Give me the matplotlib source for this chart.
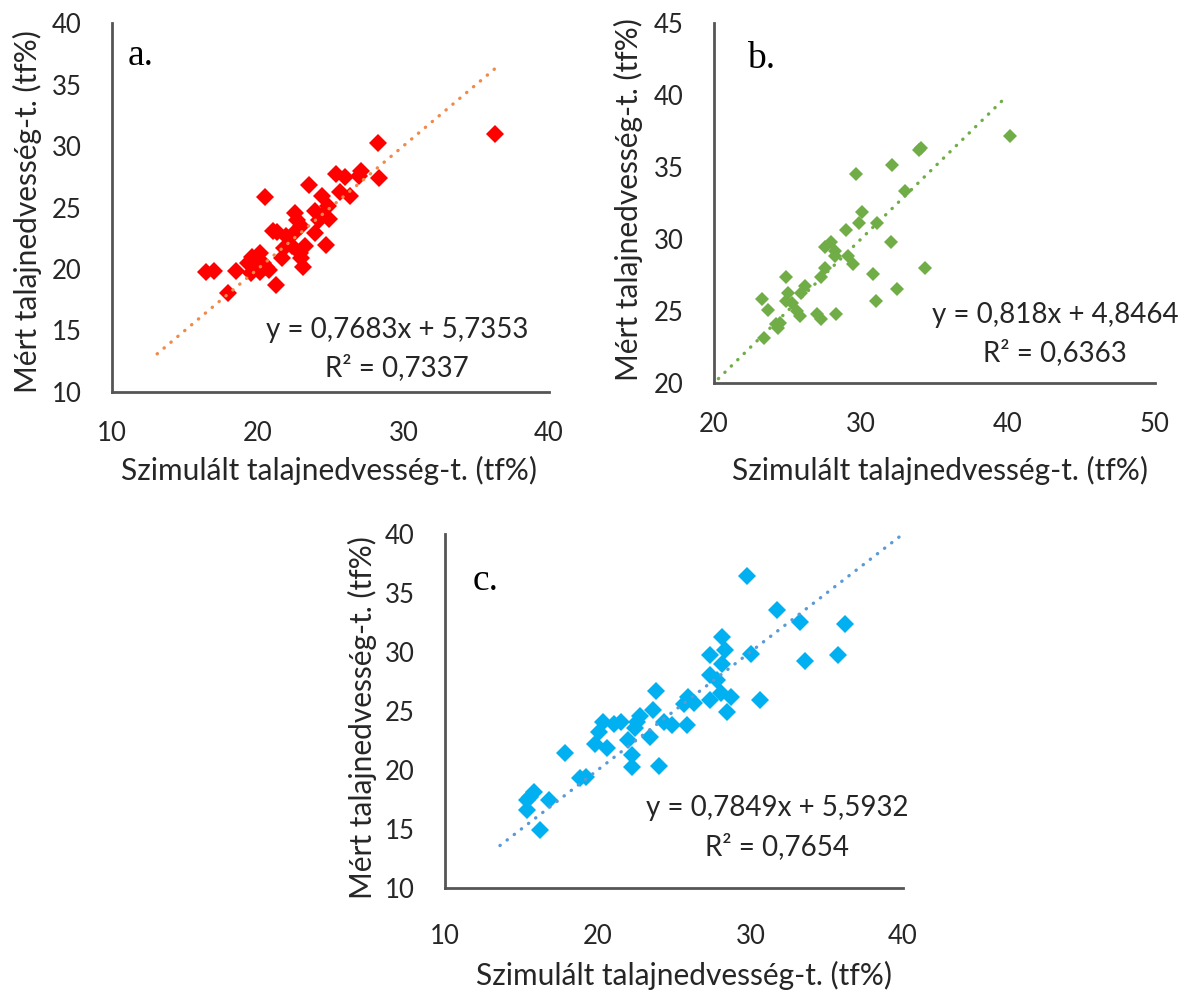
import matplotlib
matplotlib.use("Agg")
import matplotlib.pyplot as plt

# ---------------- data ----------------
a_x = [16.47, 17.0, 17.96, 18.48, 20.47, 19.35, 19.74, 19.6, 20.13, 20.39,
       20.79, 20.13, 21.26, 21.05, 21.65, 21.83, 21.96, 22.49, 22.54, 22.7,
       23.0, 23.0, 23.27, 23.53, 23.93, 23.93, 24.45, 24.45, 24.71, 24.84,
       24.9, 25.37, 25.63, 26.0, 26.36, 26.94, 27.07, 28.25, 28.3, 36.3,
       20.6, 23.1, 19.55, 22.36, 24.2, 21.3, 22.9]
a_y = [19.79, 19.8, 18.02, 19.8, 25.86, 20.47, 20.06, 21.0, 21.29, 20.47,
       19.93, 19.79, 18.7, 23.05, 20.88, 21.69, 22.65, 22.92, 24.55, 24.0,
       23.46, 20.88, 21.83, 26.86, 24.69, 22.92, 25.9, 24.28, 21.97, 25.1,
       24.1, 27.76, 26.3, 27.5, 25.9, 27.54, 27.95, 30.26, 27.4, 30.94,
       20.2, 20.2, 19.65, 21.83, 24.0, 23.0, 21.3]

b_x = [23.29, 23.64, 23.42, 24.25, 24.52, 24.38, 24.88, 25.0, 24.93, 25.34,
       25.62, 25.84, 25.9, 26.16, 26.99, 27.26, 27.26, 27.53, 27.53, 27.95,
       28.22, 28.22, 28.3, 28.96, 29.12, 29.45, 29.64, 29.86, 30.05, 30.82,
       31.01, 31.1, 32.05, 32.14, 32.47, 32.96, 33.92, 34.05, 34.38, 40.14]
b_y = [25.86, 25.05, 23.14, 24.07, 24.19, 23.84, 27.37, 26.28, 25.7, 25.58,
       25.0, 24.65, 26.28, 26.74, 24.77, 24.42, 27.33, 28.02, 29.42, 29.77,
       29.19, 28.84, 24.77, 30.63, 28.84, 28.26, 34.53, 31.12, 31.86, 27.56,
       25.7, 31.12, 29.77, 35.12, 26.51, 33.3, 36.16, 36.33, 28.02, 37.14]

c_x = [15.38, 15.38, 15.84, 15.57, 16.2, 16.79, 17.88, 18.83, 19.24, 19.84,
       20.11, 20.33, 20.6, 21.06, 21.55, 21.96, 22.23, 22.23, 22.45, 22.55,
       22.77, 23.45, 23.64, 23.8, 23.99, 24.35, 24.89, 25.63, 25.82, 25.9,
       26.3, 27.34, 27.34, 27.39, 27.8, 28.07, 28.15, 28.15, 28.34, 28.48,
       28.75, 29.76, 30.05, 30.65, 31.74, 33.23, 33.59, 35.76, 36.17]
c_y = [16.62, 17.46, 18.17, 17.75, 14.93, 17.46, 21.41, 19.3, 19.44, 22.2,
       23.24, 24.08, 21.83, 23.89, 24.08, 22.54, 21.27, 20.28, 23.52, 24.08,
       24.56, 22.82, 25.07, 26.7, 20.34, 24.08, 23.8, 25.63, 23.8, 26.2,
       25.69, 29.72, 28.03, 25.97, 27.6, 26.54, 31.27, 29.01, 30.2, 24.93,
       26.2, 36.48, 29.8, 25.97, 33.58, 32.54, 29.24, 29.77, 32.39]

# dotted reference line (x range of each)
a_line = [13.1, 36.5]
b_line = [20.3, 39.9]
c_line = [13.6, 40.0]

a_xticks = [10, 20, 30, 40]
a_yticks = [10, 15, 20, 25, 30, 35, 40]
b_xticks = [20, 30, 40, 50]
b_yticks = [20, 25, 30, 35, 40, 45]
c_xticks = [10, 20, 30, 40]
c_yticks = [10, 15, 20, 25, 30, 35, 40]

a_eq = ["y = 0,7683x + 5,7353", "R² = 0,7337"]
b_eq = ["y = 0,818x + 4,8464", "R² = 0,6363"]
c_eq = ["y = 0,7849x + 5,5932", "R² = 0,7654"]

xlabel = "Szimulált talajnedvesség-t. (tf%)"
ylabel = "Mért talajnedvesség-t. (tf%)"
panel_labels = ["a.", "b.", "c."]

# ---------------- style ----------------
W, H = 1192, 996
plt.rcParams['font.family'] = ['Lato', 'DejaVu Sans']
TXT = '#262626'
SPINE = '#555555'
FS_TICK = 18.5
FS_LAB = 21.5
FS_EQ = 20
FS_PANEL = 27

fig = plt.figure(figsize=(W / 100, H / 100), dpi=100)


def fx(px):
    return px / W


def fy(py):
    return 1 - py / H


def make_panel(rect, xs, ys, color, ms, line, lcolor, xticks, yticks,
               eq, eq_pos, plabel, plabel_pos, xlab_pos, ylab_pos, xpad):
    l, t, r, b = rect
    ax = fig.add_axes([fx(l), fy(b), (r - l) / W, (b - t) / H])
    ax.plot(line, line, linestyle=(0, (0.1, 2.6)), dash_capstyle='round',
            color=lcolor, lw=2.4, zorder=3)
    ax.plot(xs, ys, linestyle='none', marker='D', ms=ms, color=color,
            markeredgewidth=0, zorder=2)
    ax.set_xlim(xticks[0], xticks[-1])
    ax.set_ylim(yticks[0], yticks[-1])
    ax.set_xticks(xticks)
    ax.set_yticks(yticks)
    ax.tick_params(length=0, labelsize=FS_TICK, colors=TXT)
    ax.tick_params(axis='x', pad=xpad)
    ax.tick_params(axis='y', pad=22)
    for s in ['top', 'right']:
        ax.spines[s].set_visible(False)
    for s in ['left', 'bottom']:
        ax.spines[s].set_color(SPINE)
        ax.spines[s].set_linewidth(2.0)
    ax.patch.set_alpha(0)
    fig.text(fx(eq_pos[0]), fy(eq_pos[1]), eq[0], ha='center', va='center',
             fontsize=FS_EQ, color=TXT)
    fig.text(fx(eq_pos[0]), fy(eq_pos[2]), eq[1], ha='center', va='center',
             fontsize=FS_EQ, color=TXT)
    fig.text(fx(plabel_pos[0]), fy(plabel_pos[1]), plabel, ha='left',
             va='baseline', fontsize=FS_PANEL, color='black',
             family='Liberation Serif')
    fig.text(fx(xlab_pos[0]), fy(xlab_pos[1]), xlabel, ha='center',
             va='center', fontsize=FS_LAB, color=TXT)
    fig.text(fx(ylab_pos[0]), fy(ylab_pos[1]), ylabel, ha='center',
             va='center', rotation=90, fontsize=FS_LAB, color=TXT)
    return ax


make_panel((112, 23, 549, 392), a_x, a_y, '#FF0000', 9.5, a_line, '#F08A4B',
           a_xticks, a_yticks, a_eq, (397, 330, 368), panel_labels[0],
           (128, 65), (329, 470), (27, 212), 21)
make_panel((714, 23, 1155, 383), b_x, b_y, '#70AD47', 7.4, b_line, '#70AD47',
           b_xticks, b_yticks, b_eq, (1055, 315, 353), panel_labels[1],
           (747, 68), (940, 470), (628, 200), 21)
make_panel((445, 534, 903, 888), c_x, c_y, '#00B0F0', 8.8, c_line, '#5B9BD5',
           c_xticks, c_yticks, c_eq, (777, 808, 847), panel_labels[2],
           (473, 590), (684, 975), (362, 718), 26)

fig.savefig('out.png', dpi=100)
